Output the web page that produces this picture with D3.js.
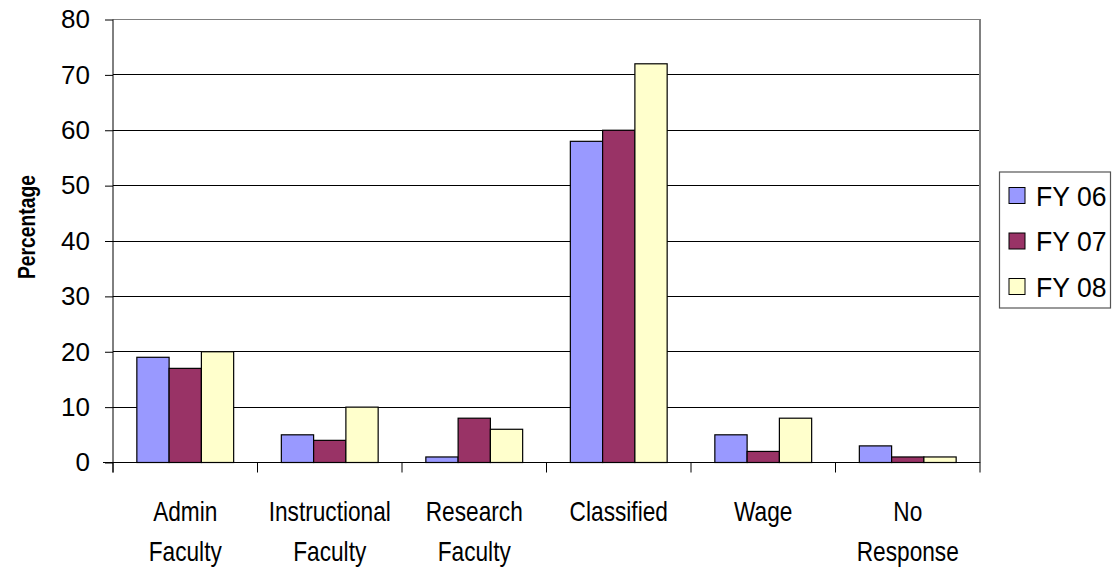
<!DOCTYPE html>
<html><head><meta charset="utf-8">
<script src="https://cdn.jsdelivr.net/npm/d3@7"></script>
<style>
html,body{margin:0;padding:0;background:#fff;}
svg{display:block;font-family:Arial,"Liberation Sans",sans-serif;}
</style></head>
<body>
<svg id="chart" width="1118" height="577"></svg>
<script>
const categories = [["Admin","Faculty"],["Instructional","Faculty"],["Research","Faculty"],["Classified"],["Wage"],["No","Response"]];
const seriesNames = ["FY 06","FY 07","FY 08"];
const fy06 = [19, 5, 1, 58, 5, 3];
const fy07 = [17, 4, 8, 60, 2, 1];
const fy08 = [20, 10, 6, 72, 8, 1];
const yTicks = [0,10,20,30,40,50,60,70,80];
const colors = ["#9999FF","#993366","#FFFFCC"];
const seriesValues = [fy06, fy07, fy08];

const svg = d3.select("#chart");
const L = 113, R = 980, T = 19.5, B = 462.5;

const x0 = d3.scaleBand().domain(d3.range(categories.length)).range([L, R]).padding(0);
const bw = x0.bandwidth();
const x1 = d3.scaleBand().domain(d3.range(seriesNames.length)).range([bw*0.165, bw*0.835]).padding(0);
const y = d3.scaleLinear().domain([0,80]).range([B, T]);

// gridlines
svg.append("g").selectAll("line").data(yTicks.filter(d=>d>0 && d<80)).join("line")
  .attr("x1", L).attr("x2", R).attr("y1", d=>y(d)).attr("y2", d=>y(d))
  .attr("stroke", "#000").attr("stroke-width", 1).attr("shape-rendering","crispEdges");

// plot border top & right
svg.append("path").attr("d", `M${L},${y(80)}H${R}V${B}`).attr("fill","none")
  .attr("stroke","#808080").attr("stroke-width",1.2).attr("shape-rendering","crispEdges");

// bars
const groups = svg.append("g").selectAll("g").data(categories).join("g")
  .attr("transform", (d,i)=>`translate(${x0(i)},0)`);
groups.selectAll("rect").data((d,i)=>seriesValues.map((s,j)=>({j, v:s[i]}))).join("rect")
  .attr("x", d=>x1(d.j)).attr("width", x1.bandwidth())
  .attr("y", d=>y(d.v)).attr("height", d=>B - y(d.v))
  .attr("fill", d=>colors[d.j]).attr("stroke","#000").attr("stroke-width",1.2);

// y axis
const yAxis = svg.append("g").attr("transform", `translate(${L},0)`)
  .call(d3.axisLeft(y).tickValues(yTicks).tickSize(8).tickPadding(15).tickFormat(d3.format("d")));
yAxis.select(".domain").attr("stroke","#000").attr("d", `M0,${T}V${B+10}`);
yAxis.selectAll(".tick line").attr("stroke","#000");
yAxis.selectAll("text").attr("font-size", 26).attr("font-family","Arial, 'Liberation Sans', sans-serif").attr("fill","#000");

// x axis
const xAxisG = svg.append("g").attr("transform", `translate(0,${B})`);
xAxisG.append("line").attr("x1", L-10).attr("x2", R).attr("y1",0).attr("y2",0).attr("stroke","#000");
xAxisG.selectAll("line.tk").data(d3.range(categories.length+1)).join("line").attr("class","tk")
  .attr("x1", i=>L + i*bw).attr("x2", i=>L + i*bw).attr("y1",0).attr("y2",10).attr("stroke","#000");

// x labels
const lab = svg.append("g").selectAll("g").data(categories).join("g")
  .attr("transform",(d,i)=>`translate(${x0(i)+bw/2},0)`);
lab.selectAll("text").data(d=>d).join("text")
  .attr("transform",(d,k)=>`translate(0,${521 + k*40}) scale(0.84,1)`)
  .attr("text-anchor","middle").attr("font-size",27).attr("fill","#000").text(d=>d);

// y title
svg.append("text").attr("transform","translate(35,227) rotate(-90) scale(0.84,1)")
  .attr("text-anchor","middle").attr("font-size",23).attr("font-weight","bold").attr("fill","#000")
  .text("Percentage");

// legend
const lg = svg.append("g");
lg.append("rect").attr("x",999.5).attr("y",172).attr("width",111).attr("height",136)
  .attr("fill","#fff").attr("stroke","#555").attr("stroke-width",1.2);
const li = lg.selectAll("g").data(seriesNames).join("g")
  .attr("transform",(d,i)=>`translate(0,${195.5 + i*45.5})`);
li.append("rect").attr("x",1009).attr("y",-8).attr("width",16).attr("height",16)
  .attr("fill",(d,i)=>colors[i]).attr("stroke","#000").attr("stroke-width",1);
li.append("text").attr("transform","translate(1036,10) scale(0.95,1)").attr("font-size",28).attr("fill","#000").text(d=>d);
</script>
</body></html>
